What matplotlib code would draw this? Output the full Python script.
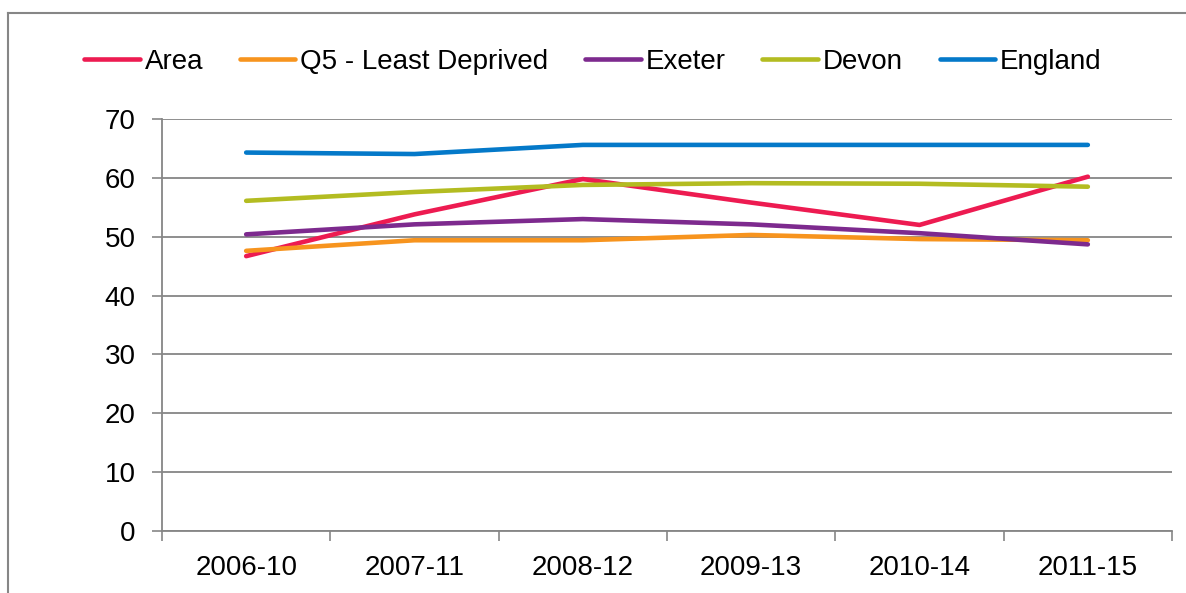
import numpy as np
import matplotlib
matplotlib.use("Agg")
import matplotlib.pyplot as plt
from matplotlib.lines import Line2D

plt.rcParams['font.family'] = ['Liberation Sans', 'DejaVu Sans']

periods = ['2006-10', '2007-11', '2008-12', '2009-13', '2010-14', '2011-15']
area = [46.7, 53.8, 59.8, 55.8, 52.0, 60.2]
q5 = [47.6, 49.4, 49.4, 50.3, 49.6, 49.4]
exeter = [50.4, 52.1, 53.0, 52.1, 50.6, 48.7]
devon = [56.1, 57.6, 58.8, 59.1, 59.0, 58.5]
england = [64.3, 64.05, 65.6, 65.6, 65.6, 65.6]

series = [
    ('Area', area, '#ED1B51'),
    ('Q5 - Least Deprived', q5, '#F7941E'),
    ('Exeter', exeter, '#7D2A8E'),
    ('Devon', devon, '#B3BC21'),
    ('England', england, '#0479C9'),
]

fig = plt.figure(figsize=(11.86, 5.93), dpi=100)
ax = fig.add_axes([0.1366, 0.1046, 0.8516, 0.6947])

x = np.arange(len(periods))
for name, vals, col in series:
    ax.plot(x, vals, color=col, lw=3.3, label=name, solid_capstyle='round')

grey = '#868686'
fs = 20
ax.set_ylim(0, 70)
ax.set_yticks(range(0, 71, 10))
ax.set_xlim(-0.5, len(periods) - 0.5)
ax.set_xticks(np.arange(-0.5, len(periods), 1.0))
ax.set_xticklabels([])
ax.set_xticks(x, minor=True)
ax.set_xticklabels(periods, minor=True)
ax.tick_params(axis='x', which='major', length=7, color=grey, width=1.2)
ax.tick_params(axis='x', which='minor', length=0, pad=17, labelsize=fs)
ax.tick_params(axis='y', length=7, color=grey, width=1.2, pad=12, labelsize=fs)
ax.grid(True, axis='y', color=grey, lw=1.3)
ax.set_axisbelow(True)
for s in ['top', 'right']:
    ax.spines[s].set_visible(False)
for s in ['left', 'bottom']:
    ax.spines[s].set_color(grey)
    ax.spines[s].set_linewidth(1.3)

fig.legend(loc='center', bbox_to_anchor=(0.5, 0.896), ncol=5, frameon=False,
           fontsize=fs, handlelength=2.0, handletextpad=0.18, columnspacing=1.32)

# outer chart border
fig.add_artist(Line2D([8 / 1186, 8 / 1186], [0, 1 - 13 / 593], color=grey, lw=1.5))
fig.add_artist(Line2D([8 / 1186, 1], [1 - 13 / 593, 1 - 13 / 593], color=grey, lw=1.5))

fig.savefig('out.png', dpi=100)
